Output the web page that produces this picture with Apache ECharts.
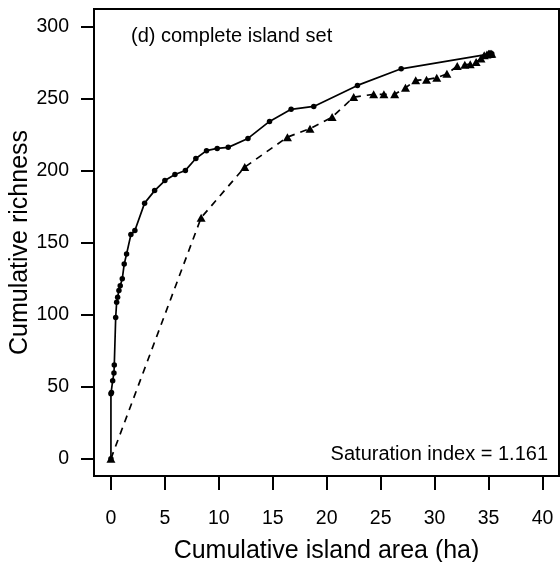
<!DOCTYPE html>
<html>
<head>
<meta charset="utf-8">
<style>
  html, body { margin: 0; padding: 0; background: #fff; }
  #chart { width: 560px; height: 562px; }
</style>
<script src="https://cdn.jsdelivr.net/npm/echarts@6/dist/echarts.min.js"></script>
</head>
<body>
<div id="chart"></div>
<script>
// Islands added smallest first (solid line, dots)
const smallFirstArea = [0, 0.0, 0.05, 0.16, 0.28, 0.31, 0.44, 0.53, 0.62, 0.74, 0.86, 1.05, 1.23, 1.45, 1.85, 2.22, 3.12, 4.05, 5.0, 5.93, 6.9, 7.87, 8.86, 9.85, 10.87, 12.7, 14.7, 16.7, 18.8, 22.85, 26.9, 35.3];
const smallFirstRichness = [0, 45, 46, 54, 59.5, 65, 98, 108.5, 112, 116.7, 120, 124.8, 135, 142, 155.5, 158.3, 177.3, 186, 193, 197.2, 200, 208.3, 213.7, 215.3, 216, 222.2, 234, 242.4, 244.4, 259, 270.5, 281];

// Islands added largest first (dashed line, triangles)
const largeFirstArea = [0, 8.36, 12.4, 16.36, 18.45, 20.5, 22.5, 24.35, 25.3, 26.3, 27.3, 28.25, 29.25, 30.2, 31.14, 32.1, 32.8, 33.3, 33.85, 34.3, 34.6, 34.85, 35.0, 35.1, 35.2, 35.3];
const largeFirstRichness = [0, 167.2, 202.3, 223.1, 229, 237, 250.9, 252.8, 252.8, 252.8, 257.4, 262.5, 263, 264.3, 267, 272.4, 273.4, 273.6, 275.2, 277.6, 279.9, 280.5, 281, 281, 281, 281];

const xTicks = [0, 5, 10, 15, 20, 25, 30, 35, 40];
const yTicks = [0, 50, 100, 150, 200, 250, 300];

const panelLabel = '(d) complete island set';
const indexLabel = 'Saturation index = 1.161';

const FONT = 'Liberation Sans, Arial, sans-serif';

function pairs(xs, ys) { return xs.map((x, i) => [x, ys[i]]); }

const chart = echarts.init(document.getElementById('chart'), null, { renderer: 'canvas' });

chart.setOption({
  animation: false,
  backgroundColor: '#fff',
  grid: {
    left: 94, right: 1, top: 9, bottom: 86,
    outerBoundsMode: 'none', containLabel: false,
    show: true, borderColor: '#000', borderWidth: 2, backgroundColor: 'transparent'
  },
  xAxis: {
    type: 'value', min: -1.57, max: 41.53,
    name: 'Cumulative island area (ha)', nameLocation: 'middle', nameGap: 63,
    nameMoveOverlap: false,
    nameTextStyle: { fontFamily: FONT, fontSize: 25, color: '#000' },
    axisLine: { show: false, onZero: false },
    splitLine: { show: false },
    axisTick: { show: true, inside: false, length: 14, customValues: xTicks,
      lineStyle: { color: '#000', width: 2 } },
    axisLabel: { show: true, margin: 33, customValues: xTicks,
      fontFamily: FONT, fontSize: 19.5, color: '#000' }
  },
  yAxis: {
    type: 'value', min: -12, max: 312,
    name: 'Cumulative richness', nameLocation: 'middle', nameGap: 61,
    nameMoveOverlap: false,
    nameTextStyle: { fontFamily: FONT, fontSize: 25, color: '#000' },
    axisLine: { show: false, onZero: false },
    splitLine: { show: false },
    axisTick: { show: true, inside: false, length: 13, customValues: yTicks,
      lineStyle: { color: '#000', width: 2 } },
    axisLabel: { show: true, margin: 25, customValues: yTicks,
      fontFamily: FONT, fontSize: 19.5, color: '#000' }
  },
  graphic: [
    { type: 'text', left: 131, top: 26,
      style: { text: panelLabel, font: '20px ' + FONT, fill: '#000' } },
    { type: 'text', right: 12, top: 444,
      style: { text: indexLabel, font: '20px ' + FONT, fill: '#000' } }
  ],
  series: [
    {
      type: 'line', data: pairs(largeFirstArea, largeFirstRichness),
      symbol: 'triangle', symbolSize: [9, 8],
      itemStyle: { color: '#000' },
      lineStyle: { color: '#000', width: 1.7, type: [7, 6] }
    },
    {
      type: 'line', data: pairs(smallFirstArea, smallFirstRichness),
      symbol: 'circle', symbolSize: 5.5,
      itemStyle: { color: '#000' },
      lineStyle: { color: '#000', width: 1.7 }
    }
  ]
});
</script>
</body>
</html>
